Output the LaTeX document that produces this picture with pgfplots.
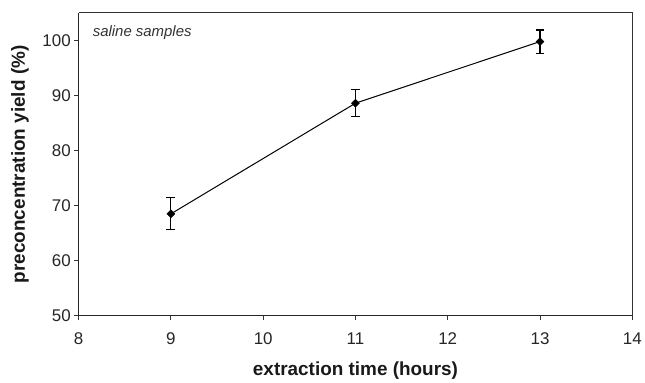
\documentclass[border=0pt]{standalone}
\usepackage{pgfplots}
\pgfplotsset{compat=1.18}
\usepackage{fontspec}
\setmainfont{Liberation Sans}
\begin{document}
\begin{tikzpicture}
\begin{axis}[
  scale only axis,
  width=556bp, height=304bp,
  xmin=8, xmax=14, ymin=50, ymax=105,
  xtick={8,9,...,14}, ytick={50,60,...,100},
  axis x line*=bottom, axis y line*=left,
  tick align=outside,
  major tick length=4.5bp,
  tick style={line width=1bp, color=black!80},
  axis line style={line width=1.4bp, color=black!85},
  /pgf/number format/assume math mode=true,
  ticklabel style={font=\fontsize{17bp}{19bp}\selectfont, color=black!85},
  xticklabel style={yshift=-9bp},
  xlabel={extraction time (hours)},
  ylabel={preconcentration yield (\%)},
  label style={font=\fontsize{19bp}{21bp}\selectfont\bfseries, color=black!90},
  xlabel style={at={(axis description cs:0.5,-0.197)}, anchor=base},
  ylabel style={at={(axis description cs:-0.1061,0.5)}, anchor=center},
  clip=false,
]
\draw[line width=1bp, color=black!80] (rel axis cs:0,1) -- (rel axis cs:1,1) -- (rel axis cs:1,0);
\path (rel axis cs:0,0) ++(-79bp,-64bp) coordinate (bl);
\path (rel axis cs:1,1) ++(10bp,13bp) coordinate (tr);
\node[anchor=base west, inner sep=0pt, font=\fontsize{15bp}{17bp}\selectfont\itshape, color=black!80] at (rel axis cs:0.0252,0.921) {saline samples};
\addplot+[black, line width=1bp, mark=square*, mark size=2.8bp, mark options={fill=black, rotate=45, line width=0.5bp},
  error bars/.cd, y dir=both, y explicit, error mark options={rotate=90, mark size=4.5bp, line width=1.1bp}, error bar style={line width=1.1bp}]
  coordinates {
  (9,68.5) +- (0,2.9)
  (11,88.6) +- (0,2.45)
  (13,99.8) +- (0,2.1)
  };
\end{axis}
\end{tikzpicture}
\end{document}
